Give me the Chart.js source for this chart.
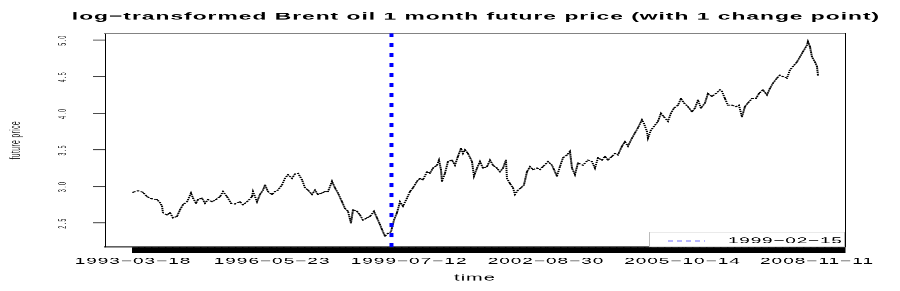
<!DOCTYPE html>
<html><head><meta charset="utf-8">
<script src="https://cdn.jsdelivr.net/npm/chart.js@4.4.1/dist/chart.umd.min.js"></script>
<style>
html,body{margin:0;padding:0;background:#fff;overflow:hidden}
canvas{display:block}
</style></head><body>
<canvas id="c" width="900" height="640" style="width:900px;height:291px"></canvas>
<script>
// ---- data ----
const chartTitle = 'log−transformed Brent oil 1 month future price (with 1 change point)';
const xTitle = 'time';
const yTitle = 'future price';
const time = [
1993.208,1993.322,1993.437,1993.528,1993.643,1993.757,1993.826,1993.872,1993.894,1993.986,
1994.055,1994.123,1994.215,1994.284,1994.352,1994.444,1994.535,1994.581,1994.650,1994.695,
1994.787,1994.856,1994.924,1995.016,1995.107,1995.199,1995.268,1995.359,1995.451,1995.542,
1995.657,1995.725,1995.817,1995.931,1995.954,1996.046,1996.114,1996.183,1996.229,1996.297,
1996.389,1996.457,1996.526,1996.618,1996.686,1996.755,1996.846,1996.915,1996.984,1997.075,
1997.144,1997.213,1997.304,1997.373,1997.441,1997.533,1997.602,1997.670,1997.762,1997.830,
1997.899,1997.991,1998.059,1998.128,1998.196,1998.242,1998.334,1998.402,1998.471,1998.563,
1998.631,1998.723,1998.791,1998.860,1998.906,1998.975,1999.043,1999.112,1999.180,1999.249,
1999.318,1999.386,1999.478,1999.547,1999.615,1999.707,1999.775,1999.844,1999.936,2000.004,
2000.073,2000.164,2000.210,2000.256,2000.279,2000.348,2000.416,2000.508,2000.576,2000.645,
2000.714,2000.759,2000.805,2000.874,2000.965,2001.011,2001.080,2001.148,2001.217,2001.309,
2001.377,2001.446,2001.537,2001.606,2001.675,2001.743,2001.766,2001.835,2001.904,2001.949,
2002.018,2002.087,2002.155,2002.224,2002.293,2002.361,2002.453,2002.521,2002.590,2002.705,
2002.796,2002.842,2002.910,2002.979,2003.048,2003.139,2003.208,2003.254,2003.322,2003.391,
2003.505,2003.620,2003.711,2003.780,2003.849,2003.940,2004.009,2004.077,2004.169,2004.238,
2004.306,2004.398,2004.466,2004.535,2004.627,2004.695,2004.764,2004.855,2004.901,2004.970,
2004.993,2005.061,2005.130,2005.222,2005.290,2005.359,2005.450,2005.519,2005.588,2005.679,
2005.748,2005.817,2005.908,2006.000,2006.068,2006.137,2006.206,2006.297,2006.366,2006.457,
2006.549,2006.640,2006.686,2006.755,2006.823,2006.915,2007.006,2007.075,2007.144,2007.212,
2007.281,2007.373,2007.464,2007.533,2007.624,2007.716,2007.784,2007.853,2007.945,2008.013,
2008.082,2008.174,2008.242,2008.311,2008.402,2008.471,2008.540,2008.631,2008.654,2008.700,
2008.746,2008.814,2008.860,2008.883
];
const price = [
2.92,2.94,2.92,2.86,2.83,2.82,2.78,2.73,2.64,2.61,
2.64,2.57,2.59,2.68,2.75,2.79,2.91,2.84,2.77,2.82,
2.84,2.77,2.82,2.79,2.82,2.86,2.93,2.86,2.77,2.76,
2.79,2.75,2.79,2.86,2.93,2.79,2.89,2.95,3.02,2.93,
2.89,2.93,2.95,3.02,3.11,3.16,3.11,3.17,3.18,3.09,
2.98,2.95,2.89,2.95,2.89,2.91,2.93,2.93,3.07,2.98,
2.91,2.79,2.70,2.66,2.50,2.68,2.66,2.61,2.54,2.57,
2.59,2.66,2.57,2.48,2.41,2.32,2.36,2.38,2.54,2.64,
2.79,2.73,2.84,2.93,2.98,3.07,3.11,3.09,3.20,3.18,
3.25,3.29,3.36,3.23,3.07,3.18,3.34,3.36,3.29,3.41,
3.52,3.45,3.50,3.45,3.34,3.14,3.25,3.34,3.25,3.27,
3.36,3.29,3.25,3.20,3.25,3.36,3.11,3.04,2.98,2.89,
2.95,2.98,3.02,3.20,3.27,3.23,3.25,3.23,3.27,3.34,
3.29,3.23,3.14,3.27,3.39,3.43,3.48,3.25,3.16,3.32,
3.29,3.36,3.34,3.25,3.39,3.36,3.41,3.36,3.41,3.45,
3.43,3.55,3.61,3.55,3.66,3.73,3.80,3.91,3.86,3.75,
3.66,3.77,3.82,3.89,4.00,3.95,3.89,4.00,4.07,4.11,
4.20,4.14,4.09,4.02,4.07,4.18,4.07,4.14,4.27,4.23,
4.27,4.32,4.30,4.20,4.11,4.11,4.09,4.11,3.95,4.09,
4.14,4.20,4.20,4.27,4.32,4.25,4.34,4.41,4.48,4.52,
4.50,4.48,4.59,4.64,4.70,4.77,4.84,4.93,4.98,4.91,
4.77,4.70,4.64,4.52
];
const changePoint = 1999.123;            // 1999-02-15
const changePointLabel = '1999−02−15';
const xTickValues = [1993.208, 1996.391, 1999.526, 2002.660, 2005.784, 2008.861];
const xTickLabels = ['1993−03−18', '1996−05−23', '1999−07−12', '2002−08−30', '2005−10−14', '2008−11−11'];
const yTickValues = [2.5, 3.0, 3.5, 4.0, 4.5, 5.0];
const xMin = 1992.567, xMax = 2009.502;
const yMin = 2.172, yMax = 5.0915;
const tickStep = 0.02;   // dense ticks: forms the solid axis bar

// ---- rendering ----
const FONT = '"Liberation Sans", Arial, Helvetica, sans-serif';
const V = 640 / 291;     // canvas units per screen pixel vertically

const series = time.map((t, i) => ({ x: t, y: price[i] }));
const xTickMarks = [];
for (let t = xTickValues[0]; t <= xMax; t += tickStep) xTickMarks.push(+t.toFixed(4));
xTickValues.forEach(v => { if (!xTickMarks.includes(v)) xTickMarks.push(v); });
xTickMarks.sort((a, b) => a - b);

const spacingAndLegend = {
  id: 'spacingAndLegend',
  beforeDraw(chart) { chart.ctx.letterSpacing = '1px'; },
  afterDatasetsDraw(chart) { chart.ctx.letterSpacing = '3px'; },
  afterDraw(chart) {
    const ctx = chart.ctx, a = chart.chartArea;
    ctx.letterSpacing = '0px';
    const ds = chart.data.datasets[0];
    const w = 196, h = 15 * V;
    const left = a.right - w, top = a.bottom - h;
    ctx.save();
    ctx.fillStyle = '#fff';
    ctx.fillRect(left, top, w, h);
    ctx.strokeStyle = '#bbb';
    ctx.lineWidth = 1;
    ctx.strokeRect(left + 0.5, top + 0.5, w - 1, h - 1);
    const cy = top + h / 2 + 1.5 * V;
    ctx.strokeStyle = ds.borderColor;
    ctx.lineWidth = 1.6;
    ctx.setLineDash([5, 4]);
    ctx.beginPath(); ctx.moveTo(left + 19, cy); ctx.lineTo(left + 56, cy); ctx.stroke();
    ctx.setLineDash([]);
    ctx.letterSpacing = '0.8px';
    ctx.fillStyle = '#000';
    ctx.font = '19px ' + FONT;
    ctx.textBaseline = 'middle';
    ctx.textAlign = 'left';
    ctx.fillText(ds.label, left + 79, cy);
    ctx.restore();
    ctx.letterSpacing = '0px';
  }
};

new Chart(document.getElementById('c'), {
  type: 'line',
  data: {
    datasets: [
      { label: changePointLabel,
        data: [{ x: changePoint, y: yMin }, { x: changePoint, y: yMax }],
        borderColor: '#0000ff', borderWidth: 4, borderDash: [8.8, 13.2], borderCapStyle: 'butt',
        pointRadius: 0, xAxisID: 'x', yAxisID: 'y' },
      { label: 'price', data: series,
        borderColor: '#000', borderWidth: 2, borderDash: [3, 1.5], tension: 0,
        pointRadius: 1.1, pointBackgroundColor: '#000', pointBorderWidth: 0,
        xAxisID: 'x', yAxisID: 'y' }
    ]
  },
  options: {
    responsive: false, animation: false, devicePixelRatio: 1, events: [],
    layout: { padding: { left: 52, right: 0, top: 0, bottom: 0 } },
    plugins: {
      legend: { display: false }, tooltip: { enabled: false },
      title: { display: true, text: chartTitle, fullSize: true, color: '#000',
        font: { family: FONT, size: 22.8, weight: 'bold', lineHeight: 1.2 },
        padding: { top: 22.6, bottom: 23.4 } }
    },
    scales: {
      x: { type: 'linear', position: 'bottom', min: xMin, max: xMax, bounds: 'data',
        afterBuildTicks: s => { s.ticks = xTickMarks.map(v => ({ value: v })); },
        afterFit: s => { s.height = 96.8; },
        ticks: { autoSkip: false, maxRotation: 0, minRotation: 0, padding: 6.8, color: '#000',
          font: { family: FONT, size: 19 },
          callback: v => { const i = xTickValues.indexOf(v); return i >= 0 ? xTickLabels[i] : ''; } },
        grid: { drawOnChartArea: false, drawTicks: true, tickLength: 13, color: '#000', lineWidth: 1.5 },
        border: { display: true, color: '#000', width: 2.2 },
        title: { display: true, text: xTitle, color: '#000', font: { family: FONT, size: 20 },
          padding: { top: 0, bottom: 17 } }
      },
      y: { type: 'linear', position: 'left', min: yMin, max: yMax, weight: 0,
        afterBuildTicks: s => { s.ticks = yTickValues.map(v => ({ value: v })); },
        afterFit: s => { s.width = 53; },
        ticks: { z: 1, minRotation: 90, maxRotation: 90, crossAlign: 'center', padding: 22.5, color: '#222',
          font: { family: FONT, size: 11.5 }, callback: v => v.toFixed(1) },
        grid: { drawOnChartArea: false, tickLength: 12, color: '#444', lineWidth: 2.2 },
        border: { display: true, color: '#000', width: 1 }
      },
      yt: { type: 'linear', position: 'left', weight: 1, min: 0, max: 1,
        afterFit: s => { s.width = 0; },
        ticks: { display: false }, grid: { display: false }, border: { display: false },
        title: { display: true, text: yTitle, color: '#222', font: { family: FONT, size: 14.5 },
          padding: { top: -44.7, bottom: 0 } }
      },
      xt: { type: 'linear', position: 'top', min: 0, max: 1,
        afterFit: s => { s.height = 0; },
        ticks: { display: false }, grid: { display: false },
        border: { display: true, color: '#777', width: 2.2 }
      },
      yr: { type: 'linear', position: 'right', min: 0, max: 1,
        afterFit: s => { s.width = 55; },
        ticks: { display: false }, grid: { display: false },
        border: { display: true, color: '#000', width: 1 }
      }
    }
  },
  plugins: [spacingAndLegend]
});
</script>
</body></html>
